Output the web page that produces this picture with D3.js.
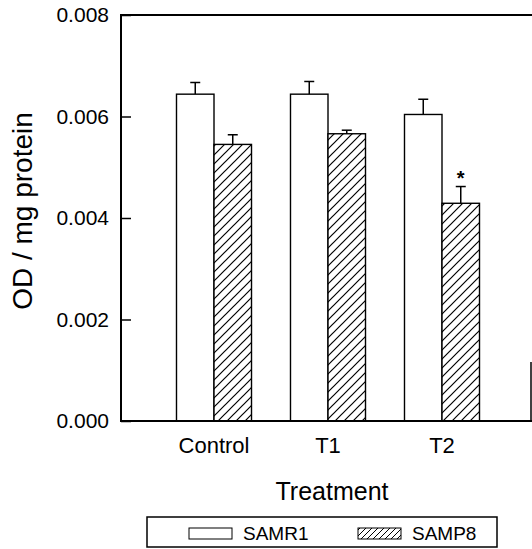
<!DOCTYPE html>
<html>
<head>
<meta charset="utf-8">
<script src="https://cdn.jsdelivr.net/npm/d3@7/dist/d3.min.js"></script>
<style>
  html, body { margin: 0; padding: 0; background: #fff; }
  svg { display: block; font-family: "Liberation Sans", Arial, sans-serif; }
</style>
</head>
<body>
<div id="chart"></div>
<script>
(function () {
  'use strict';

  // Data
  var categories = ['Control', 'T1', 'T2'];
  var seriesNames = ['SAMR1', 'SAMP8'];
  var samr1 = [0.00644, 0.00644, 0.00604];
  var samr1Err = [0.00023, 0.00025, 0.00030];
  var samp8 = [0.00545, 0.00566, 0.00429];
  var samp8Err = [0.00019, 0.00007, 0.00033];
  var samp8Signif = [false, false, true];
  var yTicks = [0, 0.002, 0.004, 0.006, 0.008];

  var width = 532;
  var height = 549;
  var font = '"Liberation Sans", Arial, sans-serif';

  var plot = { left: 121, top: 15, right: 543, bottom: 421 };

  var svg = d3.select('#chart').append('svg')
    .attr('width', width)
    .attr('height', height);

  // Hatch patterns for SAMP8
  var defs = svg.append('defs');
  var pat = defs.append('pattern')
    .attr('id', 'hatch')
    .attr('patternUnits', 'userSpaceOnUse')
    .attr('width', 9)
    .attr('height', 9);
  pat.append('rect').attr('width', 9).attr('height', 9).attr('fill', '#fff');
  pat.append('path')
    .attr('d', 'M-1,10 L10,-1 M-3,3 L3,-3 M6,12 L12,6')
    .attr('stroke', '#000')
    .attr('stroke-width', 1.2);

  var pat2 = defs.append('pattern')
    .attr('id', 'hatchSmall')
    .attr('patternUnits', 'userSpaceOnUse')
    .attr('width', 6)
    .attr('height', 6);
  pat2.append('rect').attr('width', 6).attr('height', 6).attr('fill', '#fff');
  pat2.append('path')
    .attr('d', 'M-1,7 L7,-1 M-2,2 L2,-2 M4,8 L8,4')
    .attr('stroke', '#000')
    .attr('stroke-width', 1);

  // Scales
  var y = d3.scaleLinear().domain([0, 0.008]).range([plot.bottom, plot.top]);
  var x0 = d3.scaleBand().domain(categories)
    .range([157, 499])
    .paddingInner(0.342)
    .paddingOuter(0.171);
  var x1 = d3.scaleBand().domain(seriesNames).range([0, x0.bandwidth()]);

  var rows = categories.map(function (c, i) {
    return [
      { cat: c, key: 'SAMR1', value: samr1[i], err: samr1Err[i], sig: false },
      { cat: c, key: 'SAMP8', value: samp8[i], err: samp8Err[i], sig: samp8Signif[i] }
    ];
  });

  // Error bars (drawn first so the bar covers the stem)
  var g = svg.append('g');
  rows.forEach(function (pair) {
    pair.forEach(function (d) {
      var cx = x0(d.cat) + x1(d.key) + x1.bandwidth() / 2;
      g.append('line')
        .attr('x1', cx).attr('x2', cx)
        .attr('y1', y(d.value)).attr('y2', y(d.value + d.err))
        .attr('stroke', '#000').attr('stroke-width', 1.5);
      g.append('line')
        .attr('x1', cx - 5).attr('x2', cx + 5)
        .attr('y1', y(d.value + d.err)).attr('y2', y(d.value + d.err))
        .attr('stroke', '#000').attr('stroke-width', 1.5);
      if (d.sig) {
        g.append('text')
          .attr('x', cx)
          .attr('y', y(d.value + d.err) - 2)
          .attr('text-anchor', 'middle')
          .attr('font-size', 20)
          .attr('font-weight', 'bold')
          .text('*');
      }
    });
  });

  // Bars
  rows.forEach(function (pair) {
    g.selectAll(null)
      .data(pair)
      .enter().append('rect')
      .attr('x', function (d) { return x0(d.cat) + x1(d.key); })
      .attr('y', function (d) { return y(d.value); })
      .attr('width', x1.bandwidth())
      .attr('height', function (d) { return y(0) - y(d.value); })
      .attr('fill', function (d) { return d.key === 'SAMP8' ? 'url(#hatch)' : '#fff'; })
      .attr('stroke', '#000')
      .attr('stroke-width', 1.4);
  });

  // Frame
  var frame = svg.append('g').attr('stroke', '#000').attr('stroke-width', 2).attr('fill', 'none');
  frame.append('path')
    .attr('d', 'M' + plot.right + ',' + plot.top + ' L' + plot.left + ',' + plot.top +
      ' L' + plot.left + ',' + plot.bottom + ' L' + plot.right + ',' + plot.bottom);
  frame.append('line')
    .attr('x1', 531).attr('x2', 531)
    .attr('y1', 362).attr('y2', plot.bottom)
    .attr('stroke-width', 1.5);

  // Y axis (ticks inside)
  var yAxis = d3.axisLeft(y)
    .tickValues(yTicks)
    .tickFormat(d3.format('.3f'))
    .tickSize(-10)
    .tickPadding(12);
  var ya = svg.append('g')
    .attr('transform', 'translate(' + plot.left + ',0)')
    .call(yAxis);
  ya.select('.domain').remove();
  ya.selectAll('.tick line').attr('stroke', '#000').attr('stroke-width', 1.5);
  ya.selectAll('.tick text')
    .attr('font-size', 21)
    .attr('fill', '#000')
    .attr('font-family', font);

  // X axis labels
  var xAxis = d3.axisBottom(x0).tickSize(0).tickPadding(16);
  var xa = svg.append('g')
    .attr('transform', 'translate(0,' + plot.bottom + ')')
    .call(xAxis);
  xa.select('.domain').remove();
  xa.selectAll('.tick text')
    .attr('font-size', 22)
    .attr('fill', '#000')
    .attr('font-family', font);

  // Axis titles
  svg.append('text')
    .attr('x', 332)
    .attr('y', 500)
    .attr('text-anchor', 'middle')
    .attr('font-size', 25)
    .text('Treatment');

  svg.append('text')
    .attr('transform', 'translate(32,211) rotate(-90)')
    .attr('text-anchor', 'middle')
    .attr('font-size', 28)
    .text('OD / mg protein');

  // Legend
  var leg = svg.append('g');
  leg.append('rect')
    .attr('x', 147).attr('y', 517)
    .attr('width', 350).attr('height', 30)
    .attr('fill', '#fff').attr('stroke', '#000').attr('stroke-width', 1.5);
  var legItems = [
    { name: seriesNames[0], fill: '#fff', x: 189 },
    { name: seriesNames[1], fill: 'url(#hatchSmall)', x: 358 }
  ];
  legItems.forEach(function (it) {
    leg.append('rect')
      .attr('x', it.x).attr('y', 528)
      .attr('width', 43).attr('height', 11)
      .attr('fill', it.fill).attr('stroke', '#000').attr('stroke-width', 1);
    leg.append('text')
      .attr('x', it.x + 54).attr('y', 540)
      .attr('font-size', 19)
      .text(it.name);
  });
})();
</script>
</body>
</html>
